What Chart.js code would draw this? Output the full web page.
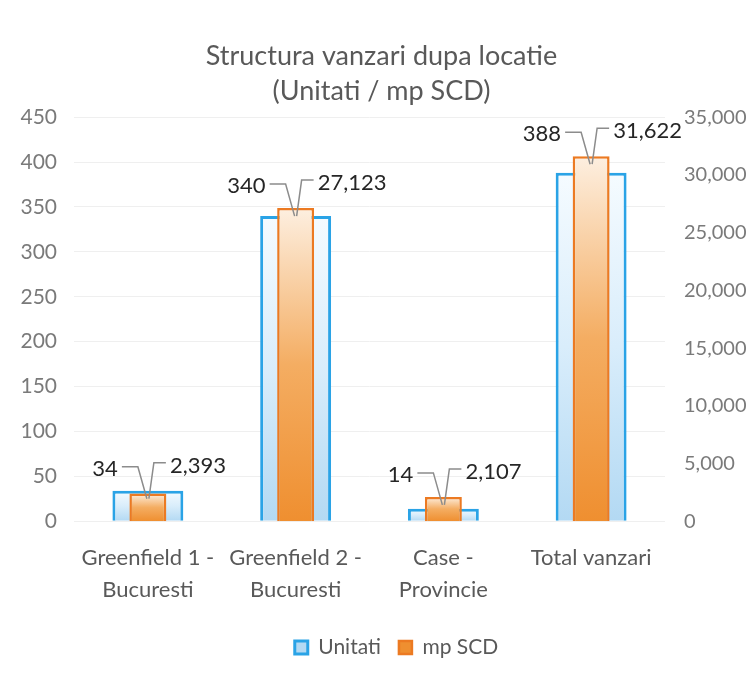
<!DOCTYPE html>
<html>
<head>
<meta charset="utf-8">
<script src="https://cdn.jsdelivr.net/npm/chart.js@4"></script>
<style>
html, body { margin: 0; padding: 0; background: #fff; }
#wrap { width: 753px; height: 679px; }
</style>
</head>
<body>
<div id="wrap"><canvas id="structuraChart"></canvas></div>
<script>
// date
const categorii = [['Greenfield 1 -', 'Bucuresti'], ['Greenfield 2 -', 'Bucuresti'], ['Case -', 'Provincie'], 'Total vanzari'];
const unitati = [34, 340, 14, 388];
const mpSCD = [2393, 27123, 2107, 31622];
const maxUnitati = 450, pasUnitati = 50;
const maxMp = 35000, pasMp = 5000;

const gri = '#595959';

function umplere(sus, mijloc, jos, plin) {
    return function (c) {
        const chart = c.chart;
        if (!chart.chartArea || c.type !== 'data') return plin;
        const ds = chart.data.datasets[c.datasetIndex];
        const scale = chart.scales[ds.yAxisID];
        const yTop = scale.getPixelForValue(ds.data[c.dataIndex]);
        const yBot = scale.getPixelForValue(0);
        const g = chart.ctx.createLinearGradient(0, yTop, 0, yBot);
        g.addColorStop(0, sus);
        g.addColorStop(0.5, mijloc);
        g.addColorStop(1, jos);
        return g;
    };
}

// etichete cu linii de legatura (stil Excel)
const etichete = {
    id: 'etichete',
    afterLayout(chart) {
        // legenda e putin mutata spre dreapta in original
        if (chart.legend) chart.legend.left += 30;
    },
    afterDatasetsDraw(chart) {
        const ctx = chart.ctx;
        const mU = chart.getDatasetMeta(0), mS = chart.getDatasetMeta(1);
        ctx.save();
        ctx.font = '22px Lato';
        ctx.fillStyle = '#262626';
        ctx.strokeStyle = '#8c8c8c';
        ctx.lineWidth = 1.5;
        ctx.textBaseline = 'middle';
        mS.data.forEach(function (bar, i) {
            const top = Math.min(bar.y, mU.data[i].y);
            const cx = bar.x;
            const ly = top - 22;
            ctx.textAlign = 'right';
            ctx.fillText(unitati[i].toLocaleString('en-US'), cx - 30, ly);
            ctx.textAlign = 'left';
            ctx.fillText(mpSCD[i].toLocaleString('en-US'), cx + 22, ly - 3);
            ctx.beginPath();
            ctx.moveTo(cx - 26, ly - 2);
            ctx.lineTo(cx - 10, ly - 2);
            ctx.lineTo(cx - 1, top + 8);
            ctx.moveTo(cx + 18, ly - 6);
            ctx.lineTo(cx + 6, ly - 6);
            ctx.lineTo(cx + 1, top + 8);
            ctx.stroke();
        });
        ctx.restore();
    }
};

const ctx = document.getElementById('structuraChart').getContext('2d');
new Chart(ctx, {
    type: 'bar',
    data: {
        labels: categorii,
        datasets: [{
            label: 'Unitati',
            data: unitati,
            yAxisID: 'y',
            order: 1,
            grouped: false,
            barPercentage: 0.48,
            categoryPercentage: 1,
            backgroundColor: umplere('#f5fbff', '#d9edfb', '#b3d9f3', '#cfe8f8'),
            borderColor: '#2aa3e6',
            borderWidth: 3
        }, {
            label: 'mp SCD',
            data: mpSCD,
            yAxisID: 'y1',
            order: 0,
            grouped: false,
            barPercentage: 0.25,
            categoryPercentage: 1,
            backgroundColor: umplere('#fdefe0', '#f4ad62', '#ef8f30', '#f4a04c'),
            borderColor: '#ec7a22',
            borderWidth: 2.5
        }]
    },
    options: {
        responsive: true,
        maintainAspectRatio: false,
        animation: false,
        layout: { padding: { left: 14, right: 4, top: 0, bottom: 11 } },
        plugins: {
            title: {
                display: true,
                text: ['Structura vanzari dupa locatie', '(Unitati / mp SCD)'],
                color: gri,
                font: { family: 'Lato', size: 27, weight: 'normal', lineHeight: 1.3 },
                padding: { top: 39, bottom: 8 }
            },
            legend: {
                position: 'bottom',
                labels: {
                    color: gri,
                    font: { family: 'Lato', size: 21 },
                    boxWidth: 13,
                    boxHeight: 13,
                    padding: 18,
                    sort: function (a, b) { return a.datasetIndex - b.datasetIndex; }
                }
            },
            tooltip: { enabled: false }
        },
        scales: {
            x: {
                grid: { display: false },
                border: { display: false },
                ticks: { color: gri, font: { family: 'Lato', size: 22, lineHeight: 1.45 }, maxRotation: 0, padding: 13 }
            },
            y: {
                position: 'left',
                min: 0,
                max: maxUnitati,
                ticks: { stepSize: pasUnitati, color: '#7a7a7a', font: { family: 'Lato', size: 21 }, padding: 17 },
                grid: { color: '#efefef', drawTicks: false },
                border: { display: false },
                afterFit: function (s) { s.width = 60; }
            },
            y1: {
                position: 'right',
                min: 0,
                max: maxMp,
                ticks: {
                    stepSize: pasMp,
                    color: '#7a7a7a',
                    font: { family: 'Lato', size: 20 },
                    padding: 11,
                    callback: function (v) { return v.toLocaleString('en-US'); }
                },
                grid: { display: false },
                border: { display: false },
                afterFit: function (s) { s.width = 84; }
            }
        }
    },
    plugins: [etichete]
});
</script>
</body>
</html>
